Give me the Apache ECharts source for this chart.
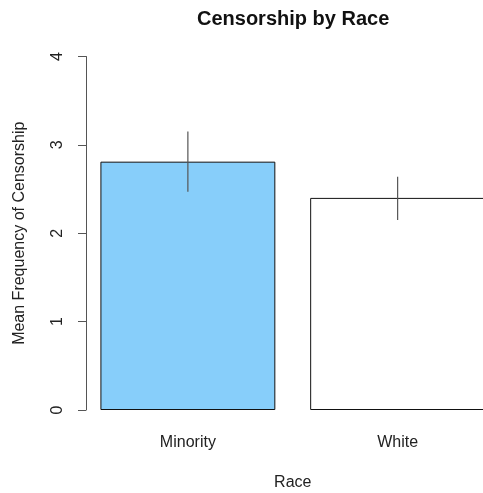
<!DOCTYPE html>
<html>
<head>
<meta charset="utf-8">
<script src="https://cdn.jsdelivr.net/npm/echarts@6/dist/echarts.min.js"></script>
<style>
html,body{margin:0;padding:0;background:#fff;}
#chart{width:483px;height:493px;}
</style>
</head>
<body>
<div id="chart"></div>
<script>
var categories = ['Minority', 'White'];
var means = [2.81, 2.40];
var lowerCI = [2.47, 2.15];
var upperCI = [3.15, 2.64];
var barColors = ['#87CEFA', '#FFFFFF'];
var yMin = 0, yMax = 4, yInterval = 1;
var chartTitle = 'Censorship by Race';

var chart = echarts.init(document.getElementById('chart'), null, {renderer: 'canvas'});
var font = 'Liberation Sans, Arial, sans-serif';
var errData = categories.map(function (c, i) { return [i, lowerCI[i], upperCI[i]]; });

chart.setOption({
  animation: false,
  backgroundColor: '#fff',
  graphic: [{
    type: 'text',
    left: 197, top: 9,
    style: {text: chartTitle, font: 'bold 20px Liberation Sans, Arial, sans-serif', fill: '#111'}
  }],
  grid: {left: 83, right: -19.5, top: 56.5, bottom: 83, containLabel: false, outerBoundsMode: 'none'},
  xAxis: {
    type: 'category',
    data: categories,
    axisLine: {show: false},
    axisTick: {show: false},
    axisLabel: {fontFamily: font, fontSize: 16, color: '#222', margin: 25},
    name: 'Race',
    nameLocation: 'middle',
    nameGap: 65,
    nameTextStyle: {fontFamily: font, fontSize: 16, color: '#222'}
  },
  yAxis: {
    type: 'value',
    min: yMin, max: yMax, interval: yInterval,
    offset: -3,
    splitLine: {show: false},
    axisLine: {show: true, lineStyle: {color: '#555', width: 1}},
    axisTick: {show: true, length: 8, lineStyle: {color: '#555'}},
    axisLabel: {fontFamily: font, fontSize: 16, color: '#222', rotate: 90, margin: 20},
    name: 'Mean Frequency of Censorship',
    nameLocation: 'middle',
    nameGap: 58,
    nameTextStyle: {fontFamily: font, fontSize: 16, color: '#222'}
  },
  series: [
    {
      type: 'bar',
      barWidth: '83.4%',
      data: means.map(function (v, i) {
        return {value: v, itemStyle: {color: barColors[i], borderColor: '#111', borderWidth: 1}};
      })
    },
    {
      type: 'custom',
      data: errData,
      z: 10,
      renderItem: function (params, api) {
        var p1 = api.coord([api.value(0), api.value(1)]);
        var p2 = api.coord([api.value(0), api.value(2)]);
        return {
          type: 'line',
          shape: {x1: p1[0], y1: p1[1], x2: p2[0], y2: p2[1]},
          style: {stroke: '#555', lineWidth: 1.2}
        };
      }
    }
  ]
});
</script>
</body>
</html>
